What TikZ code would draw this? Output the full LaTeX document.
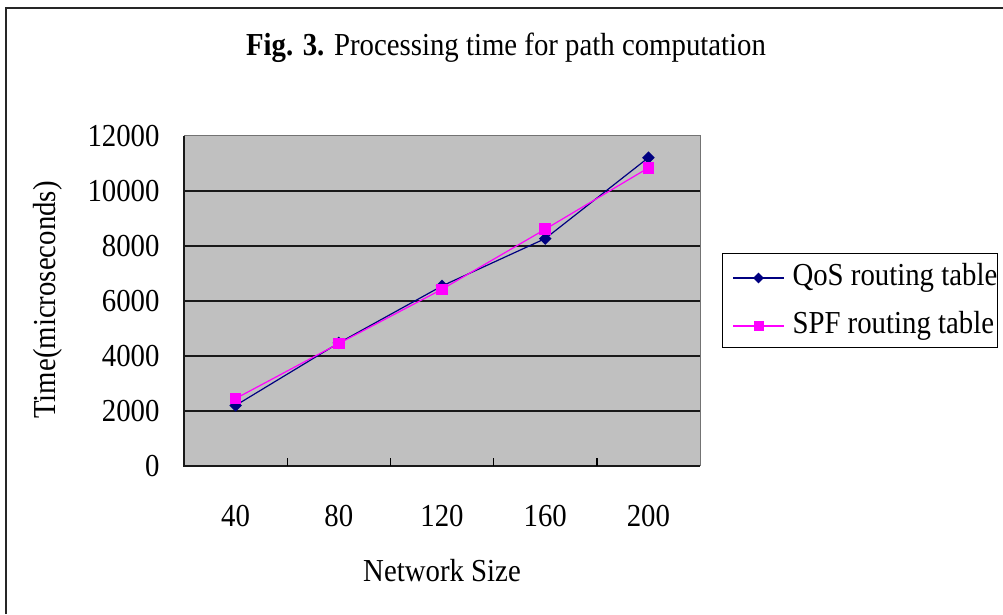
\documentclass[tikz,border=0pt]{standalone}
\usepackage{fontspec}
\setmainfont{Liberation Serif}[FakeStretch=0.9]
\usepackage{xcolor}
\usetikzlibrary{calc,shapes}

\definecolor{qosblue}{RGB}{0,0,128}
\definecolor{spfpink}{RGB}{255,0,255}
\definecolor{plotgray}{RGB}{192,192,192}

\tikzstyle{every picture}=[x=1pt,y=-1pt,line width=1pt]
\tikzstyle{txt}=[inner sep=0pt,font=\fontsize{32}{32}\selectfont]
\tikzstyle{qosmark}=[diamond,fill=qosblue,inner sep=0pt,minimum size=13pt]
\tikzstyle{spfmark}=[rectangle,fill=spfpink,inner sep=0pt,minimum size=11.5pt]

\begin{document}
\begin{tikzpicture}
    \useasboundingbox (0,0) rectangle (1003,614);
    % outer frame, cut by the page on the right and bottom
    \draw[line width=2pt,black!85] (6,614) |- (1003,8);

    % title
    \node[txt] (title) at (506,48) {\textbf{Fig. 3.} Processing time for path computation};

    % plot area: x in categories, y in thousands
    \begin{scope}[shift={(184pt,-466pt)},x=103.2pt,y=27.53pt]
        \fill[plotgray] (0,0) rectangle (5,12);
        \draw[black!55] (0,12) -- (5,12) -- (5,0);
        \foreach \y in {2,4,...,10}
            \draw[line width=1.6pt,black!90] (0,\y) -- (5,\y);
        \draw[line width=1.6pt,black!90] (0,12) -- (0,0) -- (5,0);
        \foreach \i in {1,...,4}
            \draw[line width=1.4pt] (\i,0) -- ++(0pt,8pt);

        % y tick labels
        \foreach \y [evaluate=\y as \v using int(\y*1000)] in {0,2,...,12}
            \node[txt,anchor=east] (yl\y) at ([xshift=-24pt]0,\y) {\v};
        % x tick labels
        \foreach \n [count=\i] in {40,80,120,160,200}
            \node[txt] (xl\i) at ([yshift=-50pt]\i-0.5,0) {\n};

        % QoS routing table
        \foreach \v [count=\i] in {2.2,4.47,6.54,8.26,11.2}
            \node[qosmark] (q\i) at (\i-0.5,\v) {};
        \foreach \i [evaluate=\i as \j using int(\i+1)] in {1,...,4}
            \draw[qosblue,line width=1.2pt] (q\i.center) -- (q\j.center);

        % SPF routing table
        \foreach \v [count=\i] in {2.45,4.45,6.42,8.6,10.83}
            \node[spfmark] (s\i) at (\i-0.5,\v) {};
        \foreach \i [evaluate=\i as \j using int(\i+1)] in {1,...,4}
            \draw[spfpink,line width=1.2pt] (s\i.center) -- (s\j.center);
    \end{scope}

    % axis titles
    \node[txt] (xtitle) at (442,571) {Network Size};
    \node[txt,rotate=90] (ytitle) at (48,300) {Time(microseconds)};

    % legend
    \draw[fill=white] (722,253) rectangle (997,347);
    \coordinate (la1) at (733,278);
    \coordinate (lb1) at (784,278);
    \coordinate (la2) at (733,326);
    \coordinate (lb2) at (784,326);
    \draw[qosblue,line width=1.2pt] (la1) -- (lb1);
    \node[qosmark,minimum size=11pt] (lq) at ($(la1)!0.5!(lb1)$) {};
    \draw[spfpink,line width=1.2pt] (la2) -- (lb2);
    \node[spfmark,minimum size=10pt] (ls) at ($(la2)!0.5!(lb2)$) {};
    \node[txt,anchor=west] (lqt) at (792,278) {QoS routing table};
    \node[txt,anchor=west] (lst) at (792,326) {SPF routing table};
\end{tikzpicture}
\end{document}
